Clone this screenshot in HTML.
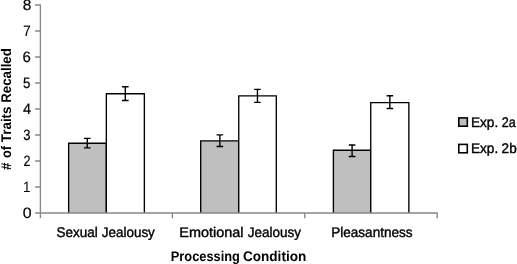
<!DOCTYPE html>
<html>
<head>
<meta charset="utf-8">
<title>Chart</title>
<style>
html,body{margin:0;padding:0;background:#ffffff;}
body{width:517px;height:264px;overflow:hidden;}
svg{display:block;}
text{font-family:"Liberation Sans",sans-serif;fill:#000;font-size:14px;text-rendering:geometricPrecision;}
.t{stroke:#000;stroke-width:0.4px;}
.d{stroke:#000;stroke-width:0.2px;}
.d1{stroke:none;}
.b{font-weight:bold;}
</style>
</head>
<body>
<svg width="517" height="264" viewBox="0 0 517 264" style="will-change:transform">
<rect x="0" y="0" width="517" height="264" fill="#ffffff"/>

<g stroke="#000" stroke-width="1.35" stroke-linejoin="miter">
  <path d="M68.65 212.95V143.2H106.35V212.95" fill="#bfbfbf"/>
  <path d="M106.35 212.95V93.7H144.35V212.95" fill="#ffffff"/>
  <path d="M200.7 212.95V140.8H238.75V212.95" fill="#bfbfbf"/>
  <path d="M238.75 212.95V95.8H276.3V212.95" fill="#ffffff"/>
  <path d="M333.4 212.95V150.25H370.75V212.95" fill="#bfbfbf"/>
  <path d="M370.75 212.95V102.65H408.85V212.95" fill="#ffffff"/>
</g>
<g stroke="#000" stroke-width="1.4" fill="none">
  <path d="M87.25 138.4V147.85M83.95 138.4H90.55M83.95 147.85H90.55"/>
  <path d="M125.3 86.8V100.45M122.00 86.8H128.60M122.00 100.45H128.60"/>
  <path d="M219.85 134.9V146.45M216.55 134.9H223.15M216.55 146.45H223.15"/>
  <path d="M257.45 89.35V102.4M254.15 89.35H260.75M254.15 102.4H260.75"/>
  <path d="M352.1 144.95V156.55M348.80 144.95H355.40M348.80 156.55H355.40"/>
  <path d="M389.85 95.75V108.45M386.55 95.75H393.15M386.55 108.45H393.15"/>
</g>
<g stroke="#868686" stroke-width="1.35" fill="none">
  <path d="M40.4 4.4V218.2"/>
  <path d="M35.1 212.95H437.8"/>
  <path d="M35.1 186.96H40.4M35.1 160.97H40.4M35.1 134.98H40.4M35.1 108.99H40.4M35.1 83.00H40.4M35.1 57.01H40.4M35.1 31.02H40.4M35.1 5.03H40.4"/>
  <path d="M172.4 212.95V218.2M304.8 212.95V218.2M437.2 212.95V218.2"/>
</g>
<g>
  <text class="d" transform="translate(22.63 217.60) scale(1.1343 1.0750)">0</text>
  <text class="d1" transform="translate(23.05 191.61) scale(0.9583 1.0750)">1</text>
  <text class="d" transform="translate(23.47 165.62) scale(0.8984 1.0750)">2</text>
  <text class="d" transform="translate(23.13 139.63) scale(0.9328 1.0750)">3</text>
  <text class="d" transform="translate(22.89 113.64) scale(1.0423 1.0750)">4</text>
  <text class="d" transform="translate(23.03 87.65) scale(0.9470 1.0750)">5</text>
  <text class="d" transform="translate(22.60 61.66) scale(1.0692 1.0750)">6</text>
  <text class="d" transform="translate(23.14 35.67) scale(0.9453 1.0750)">7</text>
  <text class="d" transform="translate(22.64 9.68) scale(1.1061 1.0750)">8</text>
</g>
<text class="t" transform="translate(56.53 237.40) scale(0.9636 1.0000)">Sexual</text>
<text class="t" transform="translate(101.71 237.40) scale(0.9618 1.0000)">Jealousy</text>
<text class="t" transform="translate(179.27 237.40) scale(1.0316 1.0000)">Emotional</text>
<text class="t" transform="translate(247.71 237.40) scale(0.9636 1.0000)">Jealousy</text>
<text class="t" transform="translate(331.24 237.40) scale(0.9672 1.0000)">Pleasantness</text>
<text class="b" transform="translate(170.78 260.80) scale(0.9158 1.0000)">Processing</text>
<text class="b" transform="translate(242.92 260.80) scale(0.9702 1.0000)">Condition</text>
<g transform="translate(11.0 170.1) rotate(-90)">
  <text class="b" transform="translate(0.06 0.00) scale(0.9595 1.0000)">#</text>
  <text class="b" transform="translate(12.01 0.00) scale(0.9048 1.0000)">of</text>
  <text class="b" transform="translate(27.96 0.00) scale(0.9536 1.0000)">Traits</text>
  <text class="b" transform="translate(67.40 0.00) scale(0.9461 1.0000)">Recalled</text>
</g>
<rect x="458.8" y="117.9" width="8.5" height="8.3" fill="#bfbfbf" stroke="#000" stroke-width="1.6"/>
<rect x="458.8" y="144.4" width="8.5" height="8.4" fill="#ffffff" stroke="#000" stroke-width="1.6"/>
<text class="t" transform="translate(470.93 126.80) scale(0.9727 1.0000)">Exp.</text>
<text class="t" transform="translate(501.67 126.80) scale(0.8993 1.0000)">2a</text>
<text class="t" transform="translate(470.93 152.95) scale(0.9727 1.0000)">Exp.</text>
<text class="t" transform="translate(501.62 152.95) scale(0.9650 1.0000)">2b</text>
</svg>
</body>
</html>
